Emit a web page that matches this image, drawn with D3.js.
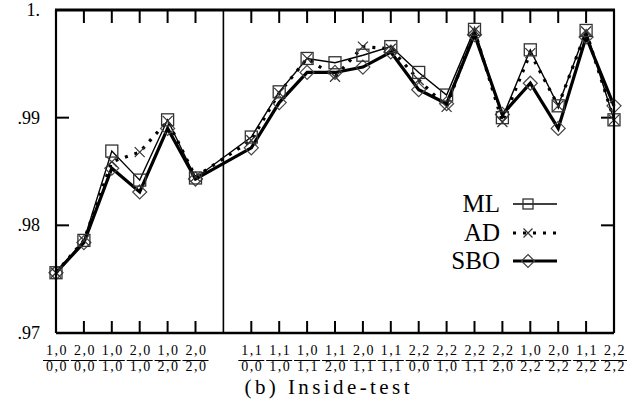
<!DOCTYPE html>
<html>
<head>
<meta charset="utf-8">
<script src="https://cdn.jsdelivr.net/npm/d3@7"></script>
<style>
  body { margin: 0; background: #fff; }
  svg text { font-family: "Liberation Serif", "Times New Roman", serif; fill: #000; }
</style>
</head>
<body>
<svg id="chart"></svg>
<script>
// x slots 0..20, slot 6 is the divider between the two groups
const slots = [0, 1, 2, 3, 4, 5, 7, 8, 9, 10, 11, 12, 13, 14, 15, 16, 17, 18, 19, 20];
const numerators = ["1,0", "2,0", "1,0", "2,0", "1,0", "2,0",
  "1,1", "1,1", "1,0", "1,1", "2,0", "1,1", "2,2", "2,2", "2,2", "2,2", "1,0", "2,0", "1,1", "2,2"];
const denominators = ["0,0", "0,0", "1,0", "1,0", "2,0", "2,0",
  "0,0", "1,0", "1,1", "2,0", "1,1", "1,1", "0,0", "1,0", "1,1", "2,0", "2,2", "2,2", "2,2", "2,2"];
const ML = [.9756, .9786, .9869, .9842, .9898, .9844,
  .9882, .9924, .9955, .9951, .9958, .9966, .9942, .9921, .9982, .9900, .9963, .9911, .9981, .9898];
const AD = [.9756, .9786, .9859, .9868, .9897, .9845,
  .9879, .9923, .9955, .9938, .9966, .9964, .9935, .9910, .9981, .9896, .9960, .9911, .9980, .9898];
const SBO = [.9756, .9784, .9853, .9831, .9890, .9843,
  .9872, .9914, .9942, .9942, .9947, .9961, .9926, .9913, .9977, .9903, .9932, .9890, .9975, .9911];
const yTicks = [0.97, 0.98, 0.99, 1.0];
const yTickLabels = [".97", ".98", ".99", "1."];

const width = 641, height = 405;
const svg = d3.select("#chart").attr("width", width).attr("height", height);

const x = d3.scaleLinear().domain([0, 20]).range([56, 614]);
const y = d3.scaleLinear().domain([0.97, 1.0]).range([333, 10]);

// ticks on top and bottom edges (not at the edges or the divider)
const tickSlots = slots.filter(s => s !== 0 && s !== 20);
svg.append("g").selectAll("line").data(tickSlots).enter().append("line")
  .attr("x1", d => x(d)).attr("x2", d => x(d))
  .attr("y1", y(1)).attr("y2", y(1) + 13)
  .attr("stroke", "#000").attr("stroke-width", 2);
svg.append("g").selectAll("line").data(tickSlots).enter().append("line")
  .attr("x1", d => x(d)).attr("x2", d => x(d))
  .attr("y1", y(0.97)).attr("y2", y(0.97) - 12)
  .attr("stroke", "#000").attr("stroke-width", 2);
// y ticks left and right
const innerY = yTicks.slice(1, 3);
svg.append("g").selectAll("line").data(innerY).enter().append("line")
  .attr("x1", x(0)).attr("x2", x(0) + 13)
  .attr("y1", d => y(d)).attr("y2", d => y(d))
  .attr("stroke", "#000").attr("stroke-width", 2);
svg.append("g").selectAll("line").data(innerY).enter().append("line")
  .attr("x1", x(20)).attr("x2", x(20) - 13)
  .attr("y1", d => y(d)).attr("y2", d => y(d))
  .attr("stroke", "#000").attr("stroke-width", 2);

// y labels
svg.append("g").selectAll("text").data(yTicks).enter().append("text")
  .attr("x", 40).attr("y", d => y(d) + 6)
  .attr("text-anchor", "end").style("font-size", "18px")
  .text((d, i) => yTickLabels[i]);

// divider
svg.append("line")
  .attr("x1", x(6)).attr("x2", x(6)).attr("y1", y(1)).attr("y2", y(0.97))
  .attr("stroke", "#000").attr("stroke-width", 1.6);

// lines
const line = vals => d3.line().x((d, i) => x(slots[i])).y(d => y(d))(vals);
svg.append("path").attr("d", line(SBO)).attr("fill", "none")
  .attr("stroke", "#000").attr("stroke-width", 3.2).attr("stroke-linejoin", "miter");
svg.append("path").attr("d", line(AD)).attr("fill", "none")
  .attr("stroke", "#000").attr("stroke-width", 3.2).attr("stroke-dasharray", "3,7");
svg.append("path").attr("d", line(ML)).attr("fill", "none")
  .attr("stroke", "#000").attr("stroke-width", 1.4);

// markers
function square(g, cx, cy, s) {
  g.append("rect").attr("x", cx - s / 2).attr("y", cy - s / 2).attr("width", s).attr("height", s)
    .attr("fill", "none").attr("stroke", "#333").attr("stroke-width", 1.3);
}
function cross(g, cx, cy, s) {
  g.append("path").attr("d", `M${cx - s / 2},${cy - s / 2}L${cx + s / 2},${cy + s / 2}M${cx - s / 2},${cy + s / 2}L${cx + s / 2},${cy - s / 2}`)
    .attr("stroke", "#333").attr("stroke-width", 1.2);
}
function diamond(g, cx, cy, s) {
  g.append("path").attr("d", `M${cx},${cy - s / 2}L${cx + s / 2},${cy}L${cx},${cy + s / 2}L${cx - s / 2},${cy}Z`)
    .attr("fill", "none").attr("stroke", "#444").attr("stroke-width", 1.2);
}
const mk = svg.append("g");
SBO.forEach((v, i) => diamond(mk, x(slots[i]), y(v), 14));
AD.forEach((v, i) => cross(mk, x(slots[i]), y(v), 10));
ML.forEach((v, i) => square(mk, x(slots[i]), y(v), 12));

// frame
svg.append("line").attr("x1", x(0) - 1).attr("x2", x(20) + 1).attr("y1", y(1)).attr("y2", y(1))
  .attr("stroke", "#000").attr("stroke-width", 3);
svg.append("line").attr("x1", x(0)).attr("x2", x(20)).attr("y1", y(0.97)).attr("y2", y(0.97))
  .attr("stroke", "#000").attr("stroke-width", 2.5);
svg.append("line").attr("x1", x(0)).attr("x2", x(0)).attr("y1", y(1)).attr("y2", y(0.97))
  .attr("stroke", "#000").attr("stroke-width", 2.2);
svg.append("line").attr("x1", x(20)).attr("x2", x(20)).attr("y1", y(1)).attr("y2", y(0.97))
  .attr("stroke", "#000").attr("stroke-width", 2.2);

// fraction labels
const lab = svg.append("g").selectAll("g").data(slots).enter().append("g")
  .attr("transform", d => `translate(${x(d)},0)`);
lab.append("text").attr("x", 1).attr("y", 355).attr("text-anchor", "middle").style("font-size", "14px")
  .style("letter-spacing", "1.5px")
  .text((d, i) => numerators[i]);
lab.append("line").attr("x1", -13).attr("x2", 13).attr("y1", 360.5).attr("y2", 360.5)
  .attr("stroke", "#000").attr("stroke-width", 1);
lab.append("text").attr("x", 1).attr("y", 371).attr("text-anchor", "middle").style("font-size", "14px")
  .style("letter-spacing", "1.5px")
  .text((d, i) => denominators[i]);

// caption
svg.append("text").attr("x", 327).attr("y", 394).attr("text-anchor", "middle")
  .style("font-size", "21px").attr("textLength", 165).attr("lengthAdjust", "spacing")
  .text("(b)  Inside-test");

// legend
const legendRows = [
  { name: "ML", y: 204 },
  { name: "AD", y: 233 },
  { name: "SBO", y: 261 }
];
const lg = svg.append("g");
lg.selectAll("text").data(legendRows).enter().append("text")
  .attr("x", 500).attr("y", d => d.y + 8).attr("text-anchor", "end")
  .style("font-size", "25px").text(d => d.name);
lg.append("line").attr("x1", 513).attr("x2", 557).attr("y1", 204).attr("y2", 204)
  .attr("stroke", "#000").attr("stroke-width", 1.4);
lg.append("line").attr("x1", 513).attr("x2", 560).attr("y1", 233).attr("y2", 233)
  .attr("stroke", "#000").attr("stroke-width", 3.2).attr("stroke-dasharray", "3,7");
lg.append("line").attr("x1", 513).attr("x2", 557).attr("y1", 261).attr("y2", 261)
  .attr("stroke", "#000").attr("stroke-width", 3.2);
square(lg, 528, 204, 10);
cross(lg, 528, 233, 9);
diamond(lg, 528, 261, 13);
</script>
</body>
</html>
